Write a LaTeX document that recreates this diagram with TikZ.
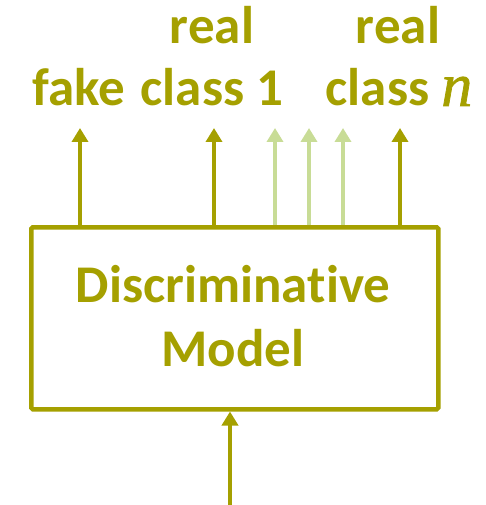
\documentclass[tikz,border=0pt]{standalone}
\usepackage{fontspec}
\setmainfont{Carlito}[Ligatures=NoCommon]
\newfontfamily\myserif{Liberation Serif}[UprightFont=* Italic,FakeBold=1.2]
\usetikzlibrary{arrows.meta}
\definecolor{olive}{RGB}{165,160,0}
\definecolor{lightg}{RGB}{200,220,150}
\begin{document}
\begin{tikzpicture}[x=1pt,y=-1pt,
  lbl/.style={text=olive,font=\fontsize{53}{56}\selectfont\bfseries,inner sep=0pt,anchor=base},
  outarrow/.style={draw=olive,line width=4pt,-{Triangle[length=14pt,width=16pt]}},
  dimarrow/.style={draw=lightg,line width=3.5pt,-{Triangle[length=14pt,width=16pt]}},
  box/.style={draw=olive,line width=4.5pt,rounded corners=1.5pt}]
\useasboundingbox (0,0) rectangle (486,505);
\node[box,minimum width=407pt,minimum height=182pt,anchor=north west,inner sep=0pt] (dm) at (29,225) {};
\node[lbl] (txt) at (233,302) {Discriminative};
\node[lbl] (txt2) at (233,366) {Model};
\node[lbl] (fake) at (79,106) {fake};
\node[lbl] (real1) at (212,44) {real};
\node[lbl] (c1) at (212,106) {class 1};
\node[lbl] (real2) at (398,44) {real};
\node[lbl] (cn) at (399,106) {class {\myserif\mdseries\upshape\fontsize{62}{62}\selectfont n}};
\coordinate (tf) at (80,128);
\coordinate (t1) at (214,128);
\coordinate (ta) at (275,128);
\coordinate (tb) at (309,128);
\coordinate (tc) at (343,128);
\coordinate (tn) at (400,128);
\coordinate (in) at (230,505);
\draw[outarrow] (dm.north -| tf) -- (tf);
\draw[outarrow] (dm.north -| t1) -- (t1);
\draw[dimarrow] (dm.north -| ta) -- (ta);
\draw[dimarrow] (dm.north -| tb) -- (tb);
\draw[dimarrow] (dm.north -| tc) -- (tc);
\draw[outarrow] (dm.north -| tn) -- (tn);
\draw[outarrow] (in) -- (dm.south -| in);
\end{tikzpicture}
\end{document}
